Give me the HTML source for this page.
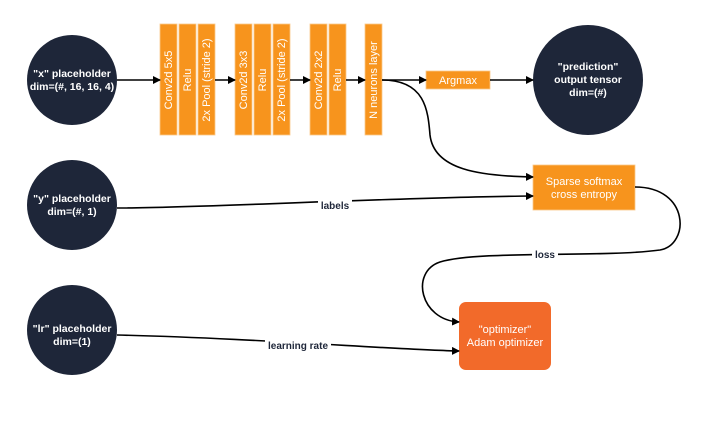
<!DOCTYPE html>
<html><head><style>
body{margin:0;width:720px;height:433px;background:#fff;overflow:hidden;font-family:"Liberation Sans",sans-serif}
</style></head><body>
<svg width="720" height="433" viewBox="0 0 720 433" xmlns="http://www.w3.org/2000/svg" font-family="Liberation Sans, sans-serif">
<defs><marker id="a" markerWidth="8" markerHeight="8" refX="7" refY="4" orient="auto" markerUnits="userSpaceOnUse"><path d="M0,0 L8,4 L0,8 Z" fill="#000"/></marker></defs>
<g fill="#1e2639">
<circle cx="72" cy="80" r="45"/><circle cx="72" cy="205" r="45"/><circle cx="72" cy="330" r="45"/><circle cx="588" cy="80" r="55"/>
</g>
<g fill="#fff" font-weight="bold" font-size="10.5" text-anchor="middle">
<text x="72" y="77">"x" placeholder</text><text x="72" y="90">dim=(#, 16, 16, 4)</text>
<text x="72" y="202">"y" placeholder</text><text x="72" y="215">dim=(#, 1)</text>
<text x="72" y="332">"lr" placeholder</text><text x="72" y="345">dim=(1)</text>
<text x="588" y="70">"prediction"</text><text x="588" y="83">output tensor</text><text x="588" y="96">dim=(#)</text>
</g>
<g fill="#f7941d" stroke="#fbc98a" stroke-width="0.8">
<rect x="160" y="24" width="17" height="111"/><rect x="179" y="24" width="17" height="111"/><rect x="198" y="24" width="17" height="111"/>
<rect x="235" y="24" width="17" height="111"/><rect x="254" y="24" width="17" height="111"/><rect x="273" y="24" width="17" height="111"/>
<rect x="310" y="24" width="17" height="111"/><rect x="329" y="24" width="17" height="111"/>
<rect x="365" y="24" width="17" height="111"/>
<rect x="426" y="71" width="64" height="18"/>
<rect x="533" y="165" width="102" height="45"/>
</g>
<rect x="459" y="302" width="92" height="68" rx="7" fill="#f26a2a"/>
<g fill="#fff" font-size="11" text-anchor="middle">
<text transform="translate(172,80) rotate(-90)">Conv2d 5x5</text>
<text transform="translate(191,80) rotate(-90)">Relu</text>
<text transform="translate(210,80) rotate(-90)">2x Pool (stride 2)</text>
<text transform="translate(247,80) rotate(-90)">Conv2d 3x3</text>
<text transform="translate(266,80) rotate(-90)">Relu</text>
<text transform="translate(285,80) rotate(-90)">2x Pool (stride 2)</text>
<text transform="translate(322,80) rotate(-90)">Conv2d 2x2</text>
<text transform="translate(341,80) rotate(-90)">Relu</text>
<text transform="translate(377,80) rotate(-90)">N neurons layer</text>
<text x="458" y="84">Argmax</text>
<text x="584" y="185">Sparse softmax</text><text x="584" y="198">cross entropy</text>
<text x="505" y="333">"optimizer"</text><text x="505" y="346">Adam optimizer</text>
</g>
<g stroke="#000" stroke-width="1.6" fill="none" marker-end="url(#a)">
<path d="M117 80 H160"/><path d="M215 80 H235"/><path d="M290 80 H310"/><path d="M346 80 H365"/>
<path d="M382 80 H426"/><path d="M490 80 H533"/>
<path d="M382 80 C425 80 428 110 430 135 C434 170 480 176 533 177"/>
<path d="M117 208 C200 208 400 197 533 196"/>
<path d="M635 187 C690 187 690 245 660 250 C600 258 480 250 440 262 C410 272 420 320 459 322"/>
<path d="M117 335 C250 338 400 350 459 351"/>
</g>
<g font-size="10" font-weight="bold" fill="#1e2639" text-anchor="middle">
<rect x="318" y="198" width="34" height="14" fill="#fff"/><text x="335" y="209">labels</text>
<rect x="532" y="247" width="26" height="14" fill="#fff"/><text x="545" y="258">loss</text>
<rect x="265" y="338" width="66" height="14" fill="#fff"/><text x="298" y="349">learning rate</text>
</g>
</svg>
</body></html>
